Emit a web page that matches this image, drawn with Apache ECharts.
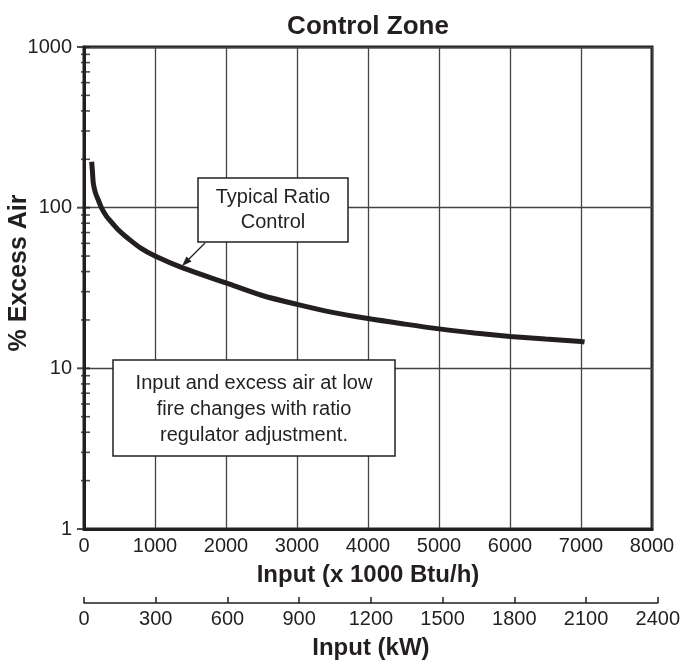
<!DOCTYPE html>
<html>
<head>
<meta charset="utf-8">
<script src="https://cdn.jsdelivr.net/npm/echarts@6/dist/echarts.min.js"></script>
<style>
  html, body { margin: 0; padding: 0; background: #fff; }
  #chart { width: 683px; height: 662px; }
</style>
</head>
<body>
<div id="chart"></div>
<script>
// curve (x = input in 1000 Btu/h, y = % excess air)
const inputBtu = [108, 120, 131, 160, 200, 250, 320, 400, 500, 600, 800, 1000, 1400, 2000, 2500, 3000, 3500, 4000, 4500, 5000, 5500, 6000, 6500, 7000, 7050];
const excessAir = [193, 165, 142, 124, 112, 99, 88, 80, 71.5, 65.5, 56, 50, 42, 34, 28.5, 25, 22.3, 20.4, 18.9, 17.6, 16.6, 15.8, 15.2, 14.7, 14.6];

// tick marks on the log axis
const yMajorTicks = [1, 10, 100, 1000];
const yMinorTicks = [2, 3, 4, 5, 6, 7, 8, 9, 20, 30, 40, 50, 60, 70, 80, 90, 200, 300, 400, 500, 600, 700, 800, 900];

const ink = '#231f20';
const font = '"Liberation Sans", Arial, Helvetica, sans-serif';

const chart = echarts.init(document.getElementById('chart'));

chart.setOption({
  animation: false,
  title: {
    text: 'Control Zone',
    left: 368,
    top: 14,
    padding: 0,
    textAlign: 'center',
    textStyle: { fontFamily: font, fontSize: 26, fontWeight: 'bold', color: ink }
  },
  grid: [
    { left: 84, right: 31, top: 47, bottom: 133, show: true, borderColor: ink, borderWidth: 3 },
    { left: 84, right: 22, top: 602, height: 1, show: false }
  ],
  xAxis: [
    {
      gridIndex: 0,
      type: 'value',
      min: 0,
      max: 8000,
      interval: 1000,
      name: 'Input (x 1000 Btu/h)',
      nameLocation: 'middle',
      nameGap: 34,
      nameTextStyle: { fontFamily: font, fontSize: 24, fontWeight: 'bold', color: ink },
      axisLine: { show: true, lineStyle: { color: ink, width: 3 } },
      axisTick: { show: false },
      axisLabel: { fontFamily: font, fontSize: 20, color: ink, margin: 7, formatter: v => String(v) },
      splitLine: { show: true, lineStyle: { color: '#444', width: 1.3 } }
    },
    {
      gridIndex: 1,
      type: 'value',
      min: 0,
      max: 2400,
      interval: 300,
      name: 'Input (kW)',
      nameLocation: 'middle',
      nameGap: 33,
      nameTextStyle: { fontFamily: font, fontSize: 24, fontWeight: 'bold', color: ink },
      axisLine: { show: true, lineStyle: { color: ink, width: 1.5 } },
      axisTick: { show: true, inside: true, length: 6, lineStyle: { color: ink, width: 1.5 } },
      axisLabel: { fontFamily: font, fontSize: 20, color: ink, margin: 6, formatter: v => String(v) },
      splitLine: { show: false }
    }
  ],
  yAxis: [
    {
      gridIndex: 0,
      type: 'log',
      logBase: 10,
      min: 1,
      max: 1000,
      axisLine: { show: true, lineStyle: { color: ink, width: 3 } },
      axisTick: { show: false },
      axisLabel: { fontFamily: font, fontSize: 20, color: ink, margin: 12, formatter: v => String(v) },
      splitLine: { show: true, lineStyle: { color: '#444', width: 1.3 } }
    },
    { gridIndex: 1, type: 'value', show: false }
  ],
  graphic: [
    {
      type: 'text',
      x: 19,
      y: 273,
      rotation: Math.PI / 2,
      style: {
        text: '% Excess Air',
        font: 'bold 25px ' + font,
        fill: ink,
        align: 'center',
        verticalAlign: 'middle'
      }
    },
    // Typical Ratio Control box + arrow
    {
      type: 'rect',
      shape: { x: 198, y: 178, width: 150, height: 64 },
      style: { fill: '#fff', stroke: ink, lineWidth: 1.5 },
      z: 10
    },
    {
      type: 'text',
      x: 273,
      y: 210,
      z: 11,
      style: {
        text: 'Typical Ratio\nControl',
        font: '20px ' + font,
        lineHeight: 25,
        fill: ink,
        align: 'center',
        verticalAlign: 'middle'
      }
    },
    {
      type: 'line',
      shape: { x1: 205, y1: 243, x2: 187, y2: 261 },
      style: { stroke: ink, lineWidth: 1.2 },
      z: 10
    },
    {
      type: 'polygon',
      shape: { points: [[182, 266], [191.5, 261.5], [186.5, 256.5]] },
      style: { fill: ink },
      z: 10
    },
    // note box
    {
      type: 'rect',
      shape: { x: 113, y: 360, width: 282, height: 96 },
      style: { fill: '#fff', stroke: ink, lineWidth: 1.5 },
      z: 10
    },
    {
      type: 'text',
      x: 254,
      y: 409,
      z: 11,
      style: {
        text: 'Input and excess air at low\nfire changes with ratio\nregulator adjustment.',
        font: '20px ' + font,
        lineHeight: 26,
        fill: ink,
        align: 'center',
        verticalAlign: 'middle'
      }
    }
  ],
  series: [
    {
      name: 'Typical Ratio Control',
      type: 'line',
      xAxisIndex: 0,
      yAxisIndex: 0,
      data: inputBtu.map((x, i) => [x, excessAir[i]]),
      smooth: 0.3,
      showSymbol: false,
      lineStyle: { color: ink, width: 5, cap: 'butt' },
      z: 5
    },
    {
      name: 'major ticks',
      type: 'scatter',
      xAxisIndex: 0,
      yAxisIndex: 0,
      clip: false,
      data: yMajorTicks.map(v => [0, v]),
      symbol: 'rect',
      symbolSize: [13, 2],
      symbolOffset: [-0.5, 0],
      itemStyle: { color: ink },
      silent: true,
      z: 6
    },
    {
      name: 'minor ticks',
      type: 'scatter',
      xAxisIndex: 0,
      yAxisIndex: 0,
      clip: false,
      data: yMinorTicks.map(v => [0, v]),
      symbol: 'rect',
      symbolSize: [9, 1.6],
      symbolOffset: [1.5, 0],
      itemStyle: { color: ink },
      silent: true,
      z: 6
    }
  ]
});
</script>
</body>
</html>
